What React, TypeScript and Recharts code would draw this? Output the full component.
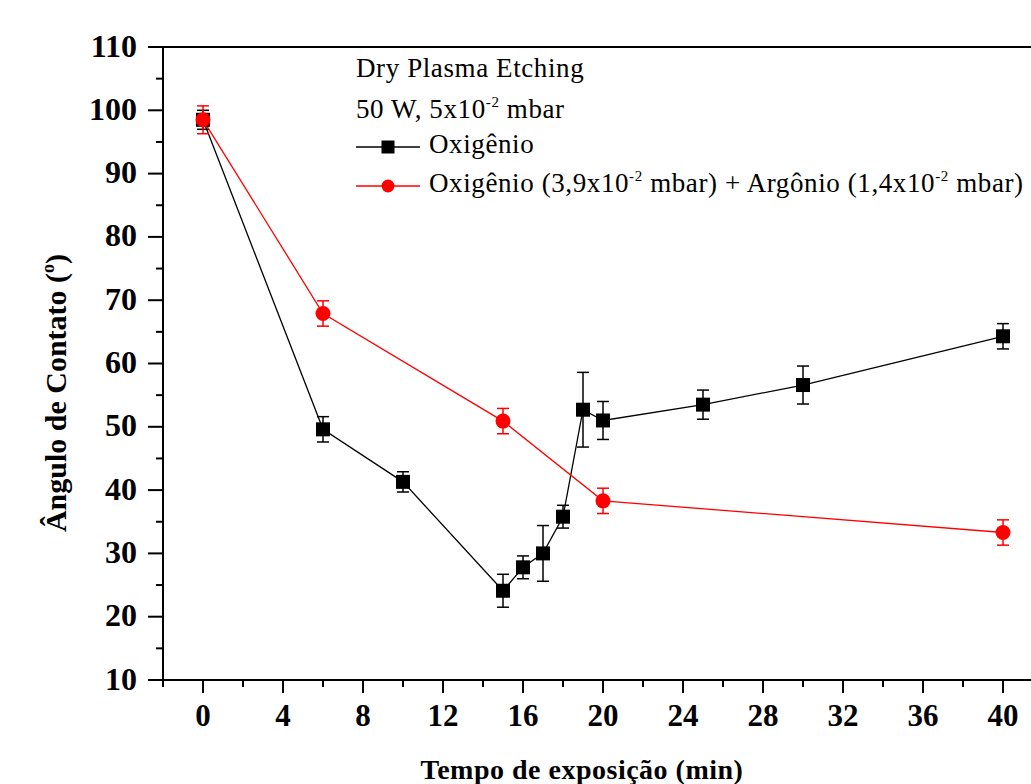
import React from 'react';
import { ComposedChart, Line, XAxis, YAxis, ErrorBar, ReferenceLine } from 'recharts';

const blackTimes = [0, 6, 10, 15, 16, 17, 18, 19, 20, 25, 30, 40];
const blackAngles = [98.5, 49.6, 41.3, 24.1, 27.8, 30.0, 35.8, 52.7, 51.0, 53.5, 56.6, 64.3];
const blackErrors = [1.5, 2.0, 1.6, 2.6, 1.8, 4.4, 1.8, 5.9, 3.0, 2.3, 3.0, 2.0];

const redTimes = [0, 6, 15, 20, 40];
const redAngles = [98.5, 67.9, 50.9, 38.3, 33.3];
const redErrors = [2.2, 2.0, 2.0, 2.0, 2.0];

const xTicks = [-2, 0, 2, 4, 6, 8, 10, 12, 14, 16, 18, 20, 22, 24, 26, 28, 30, 32, 34, 36, 38, 40];
const yTicks = [10, 15, 20, 25, 30, 35, 40, 45, 50, 55, 60, 65, 70, 75, 80, 85, 90, 95, 100, 105, 110];

const blackData = blackTimes.map((t, i) => ({ x: t, y: blackAngles[i], err: blackErrors[i] }));
const redData = redTimes.map((t, i) => ({ x: t, y: redAngles[i], err: redErrors[i] }));

const FONT = '"Liberation Serif", "Times New Roman", serif';

const XTick = (props: any) => {
  const { x, y, payload } = props;
  const v = payload.value;
  const major = v >= 0 && v % 4 === 0;
  return (
    <g>
      <line x1={x} y1={y} x2={x} y2={y + (major ? 13 : 7)} stroke="#000" strokeWidth={2} />
      {major && (
        <text x={x} y={y + 46} textAnchor="middle" style={{ fontFamily: FONT }} fontWeight="bold" fontSize={31} fill="#000">
          {v}
        </text>
      )}
    </g>
  );
};

const YTick = (props: any) => {
  const { x, y, payload } = props;
  const v = payload.value;
  const major = v % 10 === 0;
  return (
    <g>
      <line x1={x} y1={y} x2={x - (major ? 15 : 7)} y2={y} stroke="#000" strokeWidth={2} />
      {major && (
        <text x={x - 26} y={y + 9.5} textAnchor="end" style={{ fontFamily: FONT }} fontWeight="bold" fontSize={32} fill="#000">
          {v}
        </text>
      )}
    </g>
  );
};

const Square = (p: any) => (
  <rect key={`s${p.index}`} x={p.cx - 7} y={p.cy - 7} width={14} height={14} fill="#000" />
);
const Dot = (p: any) => (
  <circle key={`c${p.index}`} cx={p.cx} cy={p.cy} r={7.5} fill="#ff0000" />
);

export default function App() {
  return (
    <div style={{ position: 'absolute', left: 0, top: 0, width: 1031, height: 784, overflow: 'hidden', background: '#fff' }}>
      <ComposedChart width={1031} height={784} margin={{ top: 47, right: 0, bottom: 0, left: 0 }}>
        <XAxis
          dataKey="x"
          type="number"
          domain={[-2, 41.4]}
          allowDataOverflow
          ticks={xTicks}
          interval={0}
          height={104}
          tickSize={0}
          tickMargin={0}
          tick={<XTick />}
          axisLine={{ stroke: '#000', strokeWidth: 2 }}
          tickLine={false}
        />
        <YAxis
          type="number"
          domain={[10, 110]}
          allowDataOverflow
          ticks={yTicks}
          interval={0}
          width={163}
          tickSize={0}
          tickMargin={0}
          tick={<YTick />}
          axisLine={{ stroke: '#000', strokeWidth: 2 }}
          tickLine={false}
        />
        <ReferenceLine y={110} stroke="#000" strokeWidth={2} />
        <Line
          data={blackData}
          dataKey="y"
          stroke="#000"
          strokeWidth={1.3}
          dot={Square}
          activeDot={false}
          isAnimationActive={false}
        >
          <ErrorBar dataKey="err" direction="y" width={6} stroke="#000" strokeWidth={1.5} isAnimationActive={false} />
        </Line>
        <Line
          data={redData}
          dataKey="y"
          stroke="#ff0000"
          strokeWidth={1.3}
          dot={Dot}
          activeDot={false}
          isAnimationActive={false}
        >
          <ErrorBar dataKey="err" direction="y" width={6} stroke="#ff0000" strokeWidth={1.5} isAnimationActive={false} />
        </Line>
      </ComposedChart>
      <svg width={1031} height={784} style={{ position: 'absolute', left: 0, top: 0, pointerEvents: 'none' }}>
        <g style={{ fontFamily: FONT }} fontSize={27} letterSpacing={0.6} fill="#000">
          <text x={356} y={77}>Dry Plasma Etching</text>
          <text x={356} y={118}>
            50 W, 5x10<tspan dy={-11} fontSize={15}>-2</tspan><tspan dy={11}> mbar</tspan>
          </text>
          <line x1={356} y1={147} x2={420} y2={147} stroke="#000" strokeWidth={1.5} />
          <rect x={381.5} y={140.5} width={13} height={13} fill="#000" />
          <text x={429} y={153}>Oxigênio</text>
          <line x1={356} y1={186} x2={420} y2={186} stroke="#ff0000" strokeWidth={1.5} />
          <circle cx={388} cy={186} r={6.5} fill="#ff0000" />
          <text x={429} y={192}>
            Oxigênio (3,9x10<tspan dy={-11} fontSize={15}>-2</tspan><tspan dy={11}> mbar) + Argônio (1,4x10</tspan><tspan dy={-11} fontSize={15}>-2</tspan><tspan dy={11}> mbar)</tspan>
          </text>
        </g>
        <text
          x={66}
          y={393}
          transform="rotate(-90, 66, 393)"
          textAnchor="middle"
          style={{ fontFamily: FONT }}
          fontWeight="bold"
          fontSize={30}
          fill="#000"
        >
          Ângulo de Contato (<tspan dy={-12} fontSize={18}>o</tspan><tspan dy={12}>)</tspan>
        </text>
        <text
          x={582}
          y={779}
          textAnchor="middle"
          style={{ fontFamily: FONT }}
          fontWeight="bold"
          fontSize={28}
          letterSpacing={0.5}
          fill="#000"
        >
          Tempo de exposição (min)
        </text>
      </svg>
    </div>
  );
}
